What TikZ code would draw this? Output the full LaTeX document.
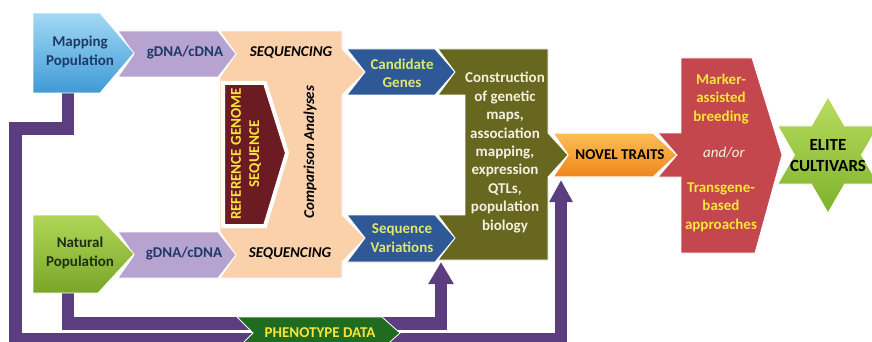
\documentclass[tikz,border=0pt]{standalone}
\usepackage{fontspec}
\setmainfont{Carlito}
\usetikzlibrary{arrows.meta}
\definecolor{mpTop}{HTML}{A3D9F5}
\definecolor{mpBot}{HTML}{3F9AD6}
\definecolor{lav}{HTML}{B7A3CF}
\definecolor{peach}{HTML}{FAD1AB}
\definecolor{maroonc}{HTML}{6B1B21}
\definecolor{cblue}{HTML}{2E5896}
\definecolor{cbtxt}{HTML}{DDE86E}
\definecolor{olivec}{HTML}{676720}
\definecolor{oltxt}{HTML}{F4F1DE}
\definecolor{orTop}{HTML}{FDBE55}
\definecolor{orBot}{HTML}{EE871C}
\definecolor{redc}{HTML}{C4474D}
\definecolor{ytxt}{HTML}{F8E43A}
\definecolor{stTop}{HTML}{B9DC5E}
\definecolor{stBot}{HTML}{7DB22C}
\definecolor{npTop}{HTML}{B2D657}
\definecolor{npBot}{HTML}{78A628}
\definecolor{purp}{HTML}{5C3D80}
\definecolor{pgreen}{HTML}{1F6B20}
\definecolor{navy}{HTML}{1F3968}
\definecolor{dgreen}{HTML}{1E2E14}
\begin{document}
\begin{tikzpicture}[x=1pt,y=-1pt,
  lbl/.style={font=\fontsize{15}{18.4}\selectfont\bfseries, align=center, inner sep=0pt},
  ilbl/.style={lbl, font=\fontsize{15}{18.4}\selectfont\bfseries\itshape},
  conn/.style={draw=purp, line width=12.5pt, line join=miter},
  shp/.style={draw=white, line width=0.8pt, line join=miter}]
\useasboundingbox (0,0) rectangle (872,342);

% connector end points
\coordinate (mpS) at (68,93);
\coordinate (npS) at (68,293);
\coordinate (ntS) at (561,180);
\coordinate (coS) at (441,262);

% purple connectors (behind shapes)
\draw[conn, -{Triangle[width=22pt,length=22pt]}] (mpS) -- (68,128.5) -- (15.5,128.5) -- (15.5,339) -- (561,339) -- (ntS);
\draw[conn, -{Triangle[width=24pt,length=22pt]}] (npS) -- (68,323.5) -- (441,323.5) -- (coS);

% peach comparison block
\path[shp, fill=peach] (220,31) -- (342,31) -- (342,49) -- (365,72) -- (342,95) -- (342,215) -- (365,238) -- (342,262) -- (342,278) -- (220,278) -- (236,255) -- (220,232) -- (220,77) -- (236,54) -- cycle;
% reference genome
\path[draw=white, line width=4pt, fill=maroonc, line join=miter] (223,83) -- (265,83) -- (287,153) -- (265,226) -- (223,226) -- cycle;
% gDNA chevrons
\path[shp, fill=lav] (118,31) -- (218,31) -- (236,54) -- (218,77) -- (118,77) -- (134,54) -- cycle;
\path[shp, fill=lav] (118,232) -- (218,232) -- (236,255) -- (218,278) -- (118,278) -- (134,255) -- cycle;
% populations
\path[shp, top color=mpTop, bottom color=mpBot] (33,13) -- (100,13) -- (134,53) -- (100,93) -- (33,93) -- cycle;
\path[shp, top color=npTop, bottom color=npBot] (33,215) -- (98,215) -- (134,254) -- (98,293) -- (33,293) -- cycle;
% candidate genes / sequence variations
\path[shp, fill=cblue] (347,49) -- (435,49) -- (455,72) -- (435,95) -- (347,95) -- (365,72) -- cycle;
\path[shp, fill=cblue] (347,215) -- (435,215) -- (455,238) -- (435,262) -- (347,262) -- (365,238) -- cycle;
% olive construction block
\path[shp, fill=olivec] (438,49) -- (548,49) -- (548,133) -- (568,155) -- (548,177) -- (548,260) -- (438,260) -- (455,238) -- (438,215) -- (465,215) -- (465,95) -- (438,95) -- (455,72) -- cycle;
% novel traits
\path[shp, line width=1.2pt, top color=orTop, bottom color=orBot] (553,133) -- (653,133) -- (677,155) -- (653,177) -- (553,177) -- (568,155) -- cycle;
% red breeding block
\path[shp, fill=redc] (681,58) -- (752,58) -- (782,155) -- (755,253) -- (681,253) -- (681,177) -- (658,177) -- (677,155) -- (658,133) -- (681,133) -- cycle;
% star
\path[shp, top color=stTop, bottom color=stBot]
  (828,97) -- (844.7,126) -- (878.2,126) -- (861.5,155) -- (878.2,184) -- (844.7,184)
  -- (828,213) -- (811.3,184) -- (777.8,184) -- (794.5,155) -- (777.8,126) -- (811.3,126) -- cycle;
% phenotype data
\path[shp, fill=pgreen] (237,317) -- (382,317) -- (400,333) -- (382,349) -- (237,349) -- (253,333) -- cycle;

% texts
\node[lbl, text=navy] (mpT) at (80,52) {Mapping\\Population};
\node[lbl, text=navy] (g1T) at (185,53) {gDNA/cDNA};
\node[ilbl] (s1T) at (291,53) {SEQUENCING};
\node[ilbl, rotate=90] (caT) at (310,152) {Comparison Analyses};
\node[lbl, text=ytxt, rotate=90] (rgT) at (246,154) {REFERENCE GENOME\\SEQUENCE};
\node[lbl, text=dgreen] (npT) at (80,253) {Natural\\Population};
\node[lbl, text=navy] (g2T) at (184,254) {gDNA/cDNA};
\node[ilbl] (s2T) at (290,254) {SEQUENCING};
\node[lbl, text=cbtxt] (cgT) at (402,73) {Candidate\\Genes};
\node[lbl, text=cbtxt] (svT) at (402,238) {Sequence\\Variations};
\node[lbl, text=oltxt] (coT) at (505,152.5) {Construction\\of genetic\\maps,\\association\\mapping,\\expression\\QTLs,\\population\\biology};
\node[lbl] (ntT) at (620,155) {NOVEL TRAITS};
\node[lbl, text=ytxt] (mabT) at (721,99) {Marker-\\assisted\\breeding};
\node[ilbl, text=oltxt, font=\fontsize{15}{18.4}\selectfont\itshape] (aoT) at (724,153) {and/or};
\node[lbl, text=ytxt] (tbT) at (721,207) {Transgene-\\based\\approaches};
\node[lbl, font=\fontsize{17}{21}\selectfont\bfseries] (ecT) at (828,156) {ELITE\\CULTIVARS};
\node[lbl, text=ytxt] (pdT) at (320,333) {PHENOTYPE DATA};
\end{tikzpicture}
\end{document}
